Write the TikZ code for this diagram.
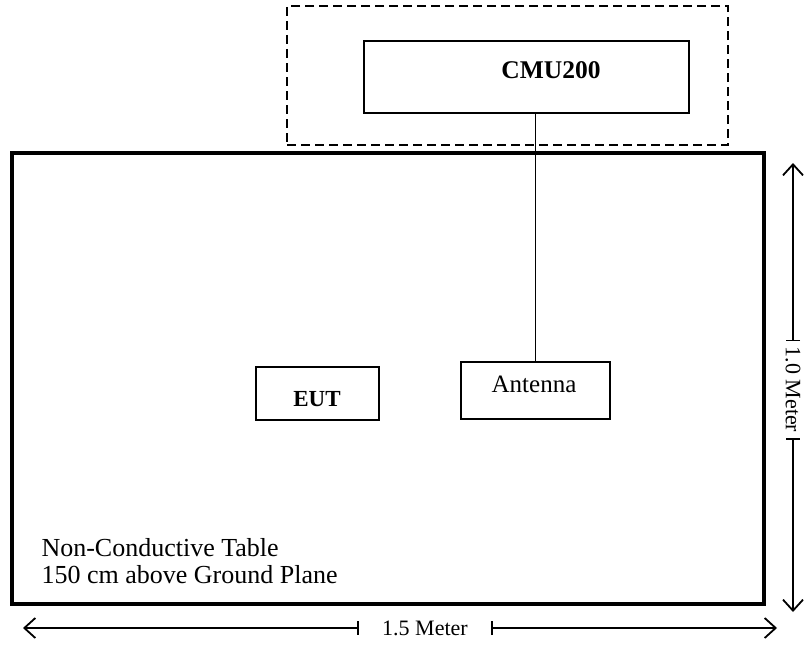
\documentclass[tikz,border=0pt]{standalone}
\usepackage{fontspec}
\setmainfont{Liberation Serif}
\usetikzlibrary{arrows.meta, positioning}
\tikzset{
x=1pt, y=-1pt, % one unit is one pixel of the sketch, y grows downwards
box/.style={draw, line width=1.9pt, inner sep=0pt}, % the plain boxes
wire/.style={line width=1.8pt}, % cable between the boxes
dim/.style={line width=1.8pt, {Bar[width=14pt]}-{Straight Barb[length=11pt,width=20pt]}}, % dimension arrows
dimtext/.style={inner sep=0pt, font=\fontsize{22}{24}\selectfont}, % text on the dimension arrows
}

\begin{document}
\begin{tikzpicture}

            \useasboundingbox (0,0) rectangle (804,645);

            % the test set and its dashed frame
            \node[box, dashed, dash pattern=on 9pt off 5pt, line width=1.6pt, minimum width=441, minimum height=139] (rack) at (507.5,75.5) {};
            \node[box, minimum width=325, minimum height=72] (cmu) at (526.5,77) {};
            \node[font=\fontsize{25.5}{27}\selectfont\bfseries] (cmutext) at (551,70) {CMU200};

            % the table
            \node[box, line width=3.4pt, minimum width=752, minimum height=451] (table) at (388,378.5) {};
            \node[box, minimum width=149, minimum height=57] (ant) at (535.5,390.5) {};
            \node[font=\fontsize{25}{27}\selectfont] (anttext) at (534,384) {Antenna};
            \node[box, minimum width=123, minimum height=53] (eut) at (317.5,393.5) {};
            \node[font=\fontsize{23}{25}\selectfont\bfseries] (euttext) at (317,399) {EUT};
            \node[anchor=base west, font=\fontsize{26}{27}\selectfont] (tbl1) at (38,556) {Non-Conductive Table};
            \node[anchor=base west, font=\fontsize{26}{27}\selectfont] (tbl2) at (38,583) {150 cm above Ground Plane};

            \draw[wire] (ant.north |- cmu.south) -- (ant.north);

            % dimensions
            \node[dimtext, minimum width=132] (width) at (425,628) {1.5 Meter};
            \coordinate (wleft) at (23,628);
            \coordinate (wright) at (777,628);
            \draw[dim] (width.west) -- (wleft);
            \draw[dim] (width.east) -- (wright);

            \node[dimtext, rotate=-90, minimum width=96] (height) at (793,389.5) {1.0 Meter};
            \coordinate (htop) at (793,163);
            \coordinate (hbottom) at (793,612);
            \draw[dim] (height.west) -- (htop);
            \draw[dim] (height.east) -- (hbottom);

        \end{tikzpicture}
\end{document}
